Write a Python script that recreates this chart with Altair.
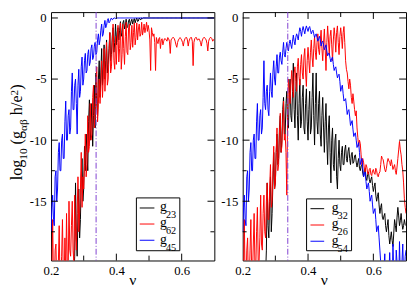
import altair as alt
import pandas as pd

# ---------------- data ----------------
NU = [round(0.2 + 0.0025 * i, 4) for i in range(201)]   # nu grid 0.2000 ... 0.7000

# left panel
L_G23 = [-25, -25, -25, -25, -25, -25, -25, -25, -25, -25, -25, -25, -25, -25, -25, -25, -25, -25, -25, -25,
         -25, -25, -25, -25, -25, -25, -23, -25, -21, -19.5, -13.5, -18, -19.5, -16, -14, -18, -16.5, -13, -11.5, -15,
         -14, -10.5, -12.5, -9.5, -11, -12.5, -8.5, -6.7, -10, -9, -7, -10.5, -8, -5.5, -9, -4.5, -7, -8, -5, -3.5,
         -6.5, -4.5, -2.5, -5.5, -4, -2.2, -5, -3.5, -1.8, -4.5, -3.8, -2.5, -1.2, -3.5, -3.0, -1.5, -0.8, -2.8, -2, -0.5,
         -2.2, -1.2, -0.8, -1.8, -1.0, -0.3, -1.5, -1.2, -0.4, -0.2, -0.9, -0.6, -0.1, -0.8, -0.7, -0.2, -0.1, -0.6, -0.3, -0.1,
         -0.5, -0.2, -0.05, -0.4, -0.15, 0, -0.3, -0.25, 0, -0.1, -0.15, 0, -0.05, 0, 0, 0, 0, 0, 0, 0,
         0, 0, 0, 0, 0, 0, 0, 0, 0, 0, 0, 0, 0, 0, 0, 0, 0, 0, 0, 0,
         0, 0, 0, 0, 0, 0, 0, 0, 0, 0, 0, 0, 0, 0, 0, 0, 0, 0, 0, 0,
         0, 0, 0, 0, 0, 0, 0, 0, 0, 0, 0, 0, 0, 0, 0, 0, 0, 0, 0, 0,
         0, 0, 0, 0, 0, 0, 0, 0, 0, 0, 0, 0, 0, 0, 0, 0, 0, 0, 0, 0,
         0]
L_G62 = [-22, -21, -16.5, -22, -22, -19, -18.5, -22, -22, -20, -17, -22, -21, -19.5, -16.5, -21, -22, -18, -21, -16,
         -20.5, -21, -15, -19, -19.5, -17, -15, -19, -20, -14.5, -17.5, -19, -16, -13, -17.5, -16, -14, -11, -15.5, -13,
         -14, -12, -9.5, -13, -12, -8, -11, -10.5, -7, -10, -9.5, -6.5, -5.5, -9, -8, -6, -4, -8.5, -7, -5,
         -7, -5.5, -3.5, -6.5, -5, -2.5, -6, -4.5, -2, -5.5, -5, -3, -1.2, -4.5, -4, -2, -0.5, -3.5, -4.2, -1.5,
         -3.8, -2.0, -0.6, -3.6, -2.5, -0.4, -4.2, -3.0, -0.5, -2.5, -3.8, -1.5, -0.35, -2.8, -3.0, -0.8, -0.5, -2.6, -2.0, -0.6,
         -2.4, -1.2, -0.4, -2.2, -1.6, -0.4, -1.8, -0.9, -0.5, -1.5, -1.3, -0.35, -1.4, -1.0, -0.5, -1.2, -0.8, -0.35, -1.1, -0.6,
         -1.0, -1.8, -4.3, -0.8, -1.2, -1.5, -1.3, -2.0, -4.3, -1.6, -1.9, -2.1, -1.7, -1.6, -2.5, -1.8, -1.7, -2.2, -1.9, -1.7,
         -1.7, -1.8, -1.9, -1.6, -1.7, -1.9, -2.9, -1.8, -1.7, -1.6, -1.6, -1.7, -1.9, -2.2, -2.4, -2.0, -1.8, -1.7, -1.6, -1.7,
         -1.8, -2.0, -2.3, -1.9, -1.7, -1.6, -1.6, -1.8, -2.3, -1.9, -1.7, -1.6, -1.6, -1.9, -3.9, -2.0, -1.7, -1.6, -1.6, -1.8,
         -1.8, -1.7, -1.8, -2.0, -2.3, -1.9, -1.7, -1.6, -1.6, -1.7, -1.8, -2.1, -2.7, -1.9, -1.7, -1.6, -1.6, -1.7, -1.9, -1.8,
         -1.7]
L_G45 = [-17.5, -15.5, -14.5, -16.5, -17, -13, -12.5, -15, -14, -11, -10.2, -12.5, -12.5, -10, -9.5, -11.5, -11.5, -8.5, -6.8, -10,
         -10.0, -8, -7.5, -9.5, -9.0, -6, -4.5, -7.5, -7.5, -5.5, -5.0, -7, -9.5, -5.5, -4.2, -6.5, -6.0, -4, -3.2, -5.5,
         -5.0, -3.5, -2.9, -4.5, -4.3, -3, -2.6, -3.9, -3.6, -2.5, -2.2, -3.4, -3.2, -2.3, -2.0, -3.0, -2.8, -1.8, -1.3, -2.2,
         -1.8, -1.0, -0.5, -1.5, -1.3, -0.6, -0.2, -0.8, -0.6, -0.2, -0.05, -0.4, -0.3, -0.1, 0, -0.15, -0.1, 0, 0, -0.05,
         0, 0, 0, 0, 0, 0, 0, 0, 0, 0, 0, 0, 0, 0, 0, 0, 0, 0, 0, 0,
         0, 0, 0, 0, 0, 0, 0, 0, 0, 0, 0, 0, 0, 0, 0, 0, 0, 0, 0, 0,
         0, 0, 0, 0, 0, 0, 0, 0, 0, 0, 0, 0, 0, 0, 0, 0, 0, 0, 0, 0,
         0, 0, 0, 0, 0, 0, 0, 0, 0, 0, 0, 0, 0, 0, 0, 0, 0, 0, 0, 0,
         0, 0, 0, 0, 0, 0, 0, 0, 0, 0, 0, 0, 0, 0, 0, 0, 0, 0, 0, 0,
         0, 0, 0, 0, 0, 0, 0, 0, 0, 0, 0, 0, 0, 0, 0, 0, 0, 0, 0, 0,
         0]

# right panel
R_G32 = [-25, -25, -25, -25, -25, -25, -25, -25, -25, -25, -25, -25, -25, -25, -25, -25, -25, -25, -25, -25,
         -25, -25, -25, -25, -25, -25, -24, -25, -21, -19, -13.5, -17, -18, -15, -13, -17.5, -16, -13.5, -11, -14,
         -13.5, -11, -9.5, -12, -11.5, -9, -8, -11, -10, -7.5, -6.5, -9.5, -9.5, -7, -6, -9, -9, -6.5, -5, -8,
         -8.5, -6, -3.7, -7.5, -9, -6, -4.5, -8, -10, -7, -5, -9, -8.5, -6.5, -5.5, -9, -9.5, -7, -5.8, -8.5,
         -10, -7.5, -6, -9.5, -9, -6.5, -4.5, -8, -10.4, -7, -4.5, -8.5, -9.5, -7, -6, -9.5, -10.5, -8, -6.5, -9,
         -11, -8.5, -7, -10, -12, -9, -8, -11, -13.5, -10, -9, -12, -12.5, -10, -9.5, -13, -14, -11.5, -10, -12,
         -12.5, -11, -10.5, -12, -12, -10.8, -10.4, -11.5, -11.8, -10.9, -10.6, -11.5, -12, -11.2, -11, -11.9, -11.8, -11.3, -11.2, -11.8,
         -12.2, -11.8, -11.5, -12.3, -12.5, -12.1, -12, -12.7, -13, -12.5, -12.3, -13.1, -13.3, -12.8, -12.6, -13.2, -13.5, -13.2, -13, -13.7,
         -14.2, -13.8, -13.5, -14.5, -15, -14.6, -14.3, -15.3, -16, -15.5, -15.2, -16.3, -16.5, -16.2, -16, -17, -17.5, -17, -16.5, -17.8,
         -18.5, -18, -17.5, -18.2, -18.7, -17.6, -16.5, -17, -17.5, -16.3, -15.5, -16.2, -17, -16.6, -16, -16.8, -17.3, -17, -16.5, -16.9,
         -17]
R_G26 = [-22, -21, -16.5, -22, -22, -19, -18, -22, -21.5, -19, -16.5, -21, -21, -18.5, -16, -20.5, -20.5, -17.5, -15.5, -20,
         -20, -18, -14.5, -18.5, -19, -16, -14.5, -17.5, -18, -15, -13.5, -16.5, -16.5, -14, -12, -15.5, -15, -12.5, -10.5, -14,
         -13.5, -11, -9, -12.5, -12, -9.5, -7.8, -11, -10.5, -8.5, -6.8, -10, -9.5, -11, -14.5, -8, -5.0, -6, -7.0, -5.5,
         -4.3, -5.5, -6.5, -4.5, -4.0, -5.2, -6.0, -4, -3.3, -4.8, -5.5, -3.8, -3.0, -4.5, -5.0, -3.2, -2.5, -4.5, -5.6, -3.5,
         -2.4, -3.5, -4.5, -2.8, -1.8, -3.2, -4.0, -2.5, -1.5, -2.8, -3.4, -2, -1.3, -2.6, -3.0, -1.8, -1.0, -2.5, -3.5, -2,
         -0.9, -2.5, -4.3, -2, -0.65, -1.8, -3.0, -1.5, -1.0, -2.2, -3.5, -1.8, -0.8, -1.5, -2.8, -1.2, -0.65, -2, -3.0, -1.5,
         -0.8, -1.5, -2.5, -1.2, -0.7, -2.0, -3.5, -4.2, -4.5, -5.2, -5.8, -5.0, -5.5, -6.5, -7.0, -6.2, -6.8, -7.5, -8.0, -7.6,
         -9.0, -9.8, -10.5, -10.0, -10.3, -11.2, -12.0, -11.5, -11.8, -12.3, -12.6, -12.0, -12.2, -12.7, -12.8, -12.4, -12.3, -12.8, -12.9, -12.5,
         -12.4, -12.7, -12.8, -12.3, -12.5, -12.9, -13.0, -12.7, -12.6, -12.0, -11.3, -11.5, -11.6, -12.0, -12.4, -12.6, -12.3, -11.8, -11.5, -11.7,
         -11.8, -12.1, -11.6, -12.0, -12.4, -12.2, -12.0, -12.5, -12.8, -12.2, -11.5, -10.8, -10.1, -10.8, -11.2, -12.0, -12.5, -13.5, -14.8, -15.5,
         -16]
R_G54 = [-17.5, -15.5, -14.5, -16.5, -17, -13, -12.5, -15, -14, -11, -10.2, -12.5, -12.5, -10, -9.5, -11.5, -11.5, -8.5, -7.0, -10,
         -10.0, -8, -7.5, -9.5, -9.0, -6.5, -3.5, -7, -7.5, -6, -5.5, -7.5, -8.0, -6, -4.5, -6, -6.5, -4.5, -3.5, -5,
         -5.5, -4, -3.0, -4.5, -4.5, -3.2, -2.8, -3.5, -3.8, -2.8, -2.0, -3, -3.2, -2.5, -2.0, -2.4, -2.7, -2.1, -1.8, -2.2,
         -2.5, -1.9, -1.4, -1.9, -2.2, -1.6, -1.3, -1.5, -1.8, -1.2, -0.8, -1.1, -1.5, -1.0, -0.7, -1.0, -1.3, -0.9, -0.65, -0.9,
         -1.1, -0.8, -0.7, -1.0, -1.3, -1.1, -1.0, -1.3, -1.6, -1.4, -1.3, -1.6, -1.9, -1.7, -1.5, -1.8, -2.3, -2.0, -1.9, -2.2,
         -2.6, -2.4, -2.2, -2.7, -3.1, -2.9, -2.9, -3.3, -3.6, -3.3, -3.2, -3.8, -4.3, -4.1, -4.0, -4.5, -4.9, -4.7, -4.6, -5.2,
         -6.0, -5.7, -5.5, -6.2, -6.8, -6.7, -6.6, -7.2, -7.9, -7.6, -7.5, -8.1, -8.8, -8.6, -8.4, -9.1, -9.7, -9.5, -9.4, -10.0,
         -10.6, -10.4, -10.2, -11.0, -12.0, -11.7, -11.5, -12.2, -13.0, -12.8, -12.6, -13.4, -14.0, -13.7, -13.5, -14.2, -15.0, -14.7, -14.5, -15.3,
         -16.0, -15.8, -15.6, -16.5, -17.5, -17.2, -17.0, -18.0, -19.0, -20, -21, -22, -22, -20.5, -19.3, -22, -22, -22, -22, -21,
         -19.2, -21, -22, -22, -18.5, -21, -22, -22, -19, -20, -21, -22, -18.3, -21, -22, -20, -18.5, -21, -21, -19.5,
         -19]

VLINE = [0.338]
X_MAJOR = [0.4, 0.6]
X_MINOR = [0.3, 0.5]
X_LABELS = [0.2, 0.4, 0.6]
Y_LABELS = [0, -5, -10, -15]
Y_MINOR = [-2.5, -7.5, -12.5, -17.5]

LEFT_NAMES = ["23", "62", "45"]
RIGHT_NAMES = ["32", "26", "54"]
COLORS = ["#000000", "#ff0000", "#0000ff"]

# ---------------- style ----------------
W, H = 167, 254
FONT = "Liberation Serif"
VCOL = "#8040d0"
XS = alt.Scale(domain=[0.2, 0.7], nice=False, zero=False)
YS = alt.Scale(domain=[-19.85, 0.48], nice=False, zero=False)
XAX = alt.Axis(values=X_LABELS, format=".1f", ticks=False, tickSize=0, domain=False, grid=False,
               labelFont=FONT, labelFontSize=13, labelColor="black", labelPadding=4,
               labelFlush=False, labelOverlap=False, title=None)
YAX = alt.Axis(values=Y_LABELS, labelExpr="datum.value == 0 ? '0' : '-' + abs(datum.value)",
               ticks=False, tickSize=0, domain=False, grid=False,
               labelFont=FONT, labelFontSize=13, labelColor="black", labelPadding=5,
               labelFlush=False, labelOverlap=False, title=None)
X_ENC = alt.X("nu:Q", scale=XS, axis=XAX)
Y_ENC = alt.Y("logg:Q", scale=YS, axis=YAX)
DUMMY = pd.DataFrame({"k": [0]})


def tick_layers():
    out = []
    for vals, ln in ((X_MAJOR, 7), (X_MINOR, 5)):
        d = pd.DataFrame({"nu": vals})
        out.append(alt.Chart(d).mark_rule(color="black", strokeWidth=1).encode(
            x=X_ENC, y=alt.value(H), y2=alt.value(H - ln)))
        out.append(alt.Chart(d).mark_rule(color="black", strokeWidth=1).encode(
            x=X_ENC, y=alt.value(0), y2=alt.value(ln)))
    for vals, ln in ((Y_LABELS, 7), (Y_MINOR, 4)):
        d = pd.DataFrame({"logg": vals})
        out.append(alt.Chart(d).mark_rule(color="black", strokeWidth=1).encode(
            y=Y_ENC, x=alt.value(0), x2=alt.value(ln)))
        out.append(alt.Chart(d).mark_rule(color="black", strokeWidth=1).encode(
            y=Y_ENC, x=alt.value(W), x2=alt.value(W - ln)))
    return out


def legend_layers(names, box, lx, rows, gx):
    out = [alt.Chart(DUMMY).mark_rect(fill="white", stroke="black", strokeWidth=1).encode(
        x=alt.value(box[0]), x2=alt.value(box[1]), y=alt.value(box[2]), y2=alt.value(box[3]))]
    for name, col, ry in zip(names, COLORS, rows):
        out.append(alt.Chart(DUMMY).mark_rule(color=col, strokeWidth=1).encode(
            x=alt.value(lx[0]), x2=alt.value(lx[1]), y=alt.value(ry)))
        out.append(alt.Chart(DUMMY).mark_text(text="g", font=FONT, fontSize=14, align="left",
                                              baseline="alphabetic", color="black").encode(
            x=alt.value(gx), y=alt.value(ry + 3.5)))
        out.append(alt.Chart(DUMMY).mark_text(text=name, font=FONT, fontSize=10.5, align="left",
                                              baseline="alphabetic", color="black").encode(
            x=alt.value(gx + 6), y=alt.value(ry + 10.5)))
    return out


def ytitle_layers():
    S, SS = 16.5, 11.5
    cw = {'l': .278, 'o': .5, 'g': .5, '1': .5, '0': .5, ' ': .25, '(': .333, ')': .333,
          'h': .5, '/': .278, 'e': .444, '2': .5, 'α': .55, 'β': .5}
    pieces = [("log", S, 0), ("10", SS, 4.5), (" ", S, 0), ("(g", S, 0), ("αβ", SS, 4.5),
              (" ", S, 0), ("h/e", S, 0), ("2", SS, -4.5), (")", S, 0)]
    base_x = -29.5
    pos = 172.0
    out = []
    for txt, fs, shift in pieces:
        adv = sum(cw[c] for c in txt) * fs
        if txt.strip():
            out.append(alt.Chart(DUMMY).mark_text(text=txt, font=FONT, fontSize=fs, angle=270,
                                                  align="left", baseline="alphabetic",
                                                  color="black").encode(
                x=alt.value(base_x + shift), y=alt.value(pos)))
        pos -= adv
    # invisible anchor fixing the left extent
    out.append(alt.Chart(DUMMY).mark_rule(strokeOpacity=0).encode(
        x=alt.value(-44), x2=alt.value(-44), y=alt.value(100), y2=alt.value(110)))
    return out


def panel(series, names, box, lx, rows, gx, title):
    layers = []
    for ys, col in zip(series, COLORS):
        d = pd.DataFrame({"nu": NU, "logg": ys})
        layers.append(alt.Chart(d).mark_line(color=col, strokeWidth=1, clip=True).encode(
            x=X_ENC, y=Y_ENC))
    layers.append(alt.Chart(pd.DataFrame({"nu": VLINE})).mark_rule(
        color=VCOL, strokeWidth=1, strokeDash=[6, 2, 1, 2]).encode(x=X_ENC))
    layers += tick_layers()
    layers += legend_layers(names, box, lx, rows, gx)
    layers.append(alt.Chart(DUMMY).mark_text(text="ν", font=FONT, fontSize=16, align="center",
                                             baseline="alphabetic", color="black").encode(
        x=alt.value(W / 2), y=alt.value(279)))
    if title:
        layers += ytitle_layers()
    return alt.layer(*layers).properties(width=W, height=H)


left = panel([L_G23, L_G62, L_G45], LEFT_NAMES, (87.3, 131.7, 190, 244), (90.7, 105.7),
             (200.3, 216.7, 233.3), 111.5, True)
right = panel([R_G32, R_G26, R_G54], RIGHT_NAMES, (65.3, 111.3, 191, 244), (69.3, 83.3),
              (201, 217.7, 234.3), 91, False)

chart = alt.hconcat(left, right, spacing=29, bounds="flush").properties(
    padding={"left": -1, "top": 0, "right": 0, "bottom": 0}
).configure_view(stroke="black", strokeWidth=1)

chart.save("out.html", embed_options={"renderer": "svg", "actions": False})
